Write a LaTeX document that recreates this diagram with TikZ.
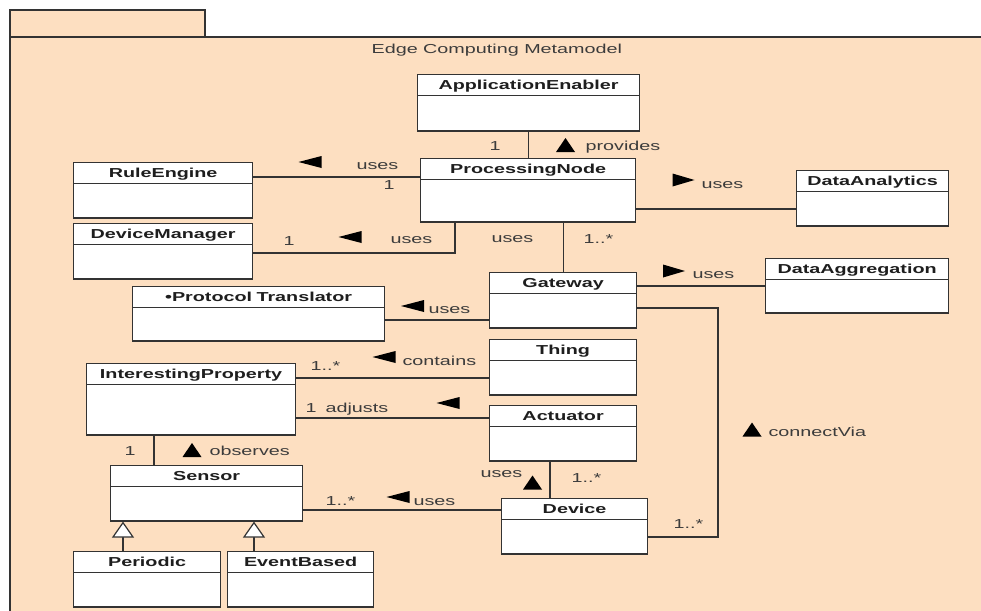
\documentclass[tikz,border=0pt]{standalone}
\usepackage{fontspec}
\setmainfont{Liberation Sans}
\newfontfamily\umlfont[FakeStretch=1.52]{Liberation Sans}
\usetikzlibrary{shapes.multipart,arrows.meta}

\definecolor{pkgfill}{RGB}{253,223,193}
\definecolor{linec}{RGB}{51,51,51}
\definecolor{namec}{RGB}{30,30,30}
\definecolor{labelc}{RGB}{60,60,60}

\tikzset{
  pics/dirup/.style={code={\fill[black] (-9.5,7) -- (9.5,7) -- (0,-7) -- cycle;}},
  pics/dirleft/.style={code={\fill[black] (11.5,-6) -- (11.5,6) -- (-11.5,0) -- cycle;}},
  pics/dirright/.style={code={\fill[black] (-11,-6.5) -- (-11,6.5) -- (11,0) -- cycle;}}
}

\begin{document}
\begin{tikzpicture}[
  x=1pt, y=-1pt,
  line width=1.2pt,
  umlclass/.style={
    draw=linec,
    fill=white,
    rectangle split,
    rectangle split parts=2,
    inner sep=0pt,
    text width=#1,
    text centered,
    anchor=north west,
    font=\umlfont\bfseries\fontsize{13}{15}\selectfont,
    text=namec
    },
  umllabel/.style={
    inner sep=0pt,
    anchor=base west,
    text=labelc,
    font=\umlfont\fontsize{13}{15}\selectfont
    },
  assoc/.style={draw=linec},
  inherits/.style={draw=linec, -{Triangle[open,length=16pt,width=22pt,fill=white]}}
]
\useasboundingbox (0,0) rectangle (981,610);

% package
\draw[draw=linec, fill=pkgfill] (10,10) rectangle (205,37);
\draw[draw=linec, fill=pkgfill] (10,37) rectangle (995,625);
\node[umllabel] (title) at (371,53) {Edge Computing Metamodel};

% classes
\node[umlclass=222pt] (ae) at (417,74)
  {\rule[-6pt]{0pt}{20pt}ApplicationEnabler \nodepart{two} \rule{0pt}{34pt}};
\node[umlclass=215pt] (pn) at (420,158)
  {\rule[-6pt]{0pt}{20pt}ProcessingNode \nodepart{two} \rule{0pt}{41pt}};
\node[umlclass=179pt] (re) at (73,162)
  {\rule[-6pt]{0pt}{20pt}RuleEngine \nodepart{two} \rule{0pt}{33pt}};
\node[umlclass=152pt] (da) at (796,170)
  {\rule[-6pt]{0pt}{20pt}DataAnalytics \nodepart{two} \rule{0pt}{33pt}};
\node[umlclass=179pt] (dm) at (73,223)
  {\rule[-6pt]{0pt}{20pt}DeviceManager \nodepart{two} \rule{0pt}{33pt}};
\node[umlclass=252pt] (pt) at (132,286)
  {\rule[-6pt]{0pt}{20pt}•Protocol Translator \nodepart{two} \rule{0pt}{32pt}};
\node[umlclass=147pt] (gw) at (489,272)
  {\rule[-6pt]{0pt}{20pt}Gateway \nodepart{two} \rule{0pt}{33pt}};
\node[umlclass=183pt] (dag) at (765,258)
  {\rule[-6pt]{0pt}{20pt}DataAggregation \nodepart{two} \rule{0pt}{32pt}};
\node[umlclass=147pt] (th) at (489,339)
  {\rule[-6pt]{0pt}{20pt}Thing \nodepart{two} \rule{0pt}{33pt}};
\node[umlclass=209pt] (ip) at (86,363)
  {\rule[-6pt]{0pt}{20pt}InterestingProperty \nodepart{two} \rule{0pt}{49pt}};
\node[umlclass=147pt] (ac) at (489,405)
  {\rule[-6pt]{0pt}{20pt}Actuator \nodepart{two} \rule{0pt}{33pt}};
\node[umlclass=192pt] (se) at (110,465)
  {\rule[-6pt]{0pt}{20pt}Sensor \nodepart{two} \rule{0pt}{33pt}};
\node[umlclass=146pt] (de) at (501,498)
  {\rule[-6pt]{0pt}{20pt}Device \nodepart{two} \rule{0pt}{33pt}};
\node[umlclass=147pt] (pe) at (73,551)
  {\rule[-6pt]{0pt}{20pt}Periodic \nodepart{two} \rule{0pt}{33pt}};
\node[umlclass=146pt] (eb) at (227,551)
  {\rule[-6pt]{0pt}{20pt}EventBased \nodepart{two} \rule{0pt}{33pt}};

% associations
\draw[assoc] (ae.south) -- (ae.south |- pn.north);
\draw[assoc] (re.east |- 0,177) -- (pn.west |- 0,177);
\draw[assoc] (pn.east |- 0,209) -- (da.west |- 0,209);
\draw[assoc] (dm.east |- 0,253) -| ([xshift=35pt]pn.south west);
\draw[assoc] (gw.north) -- (gw.north |- pn.south);
\draw[assoc] (gw.east |- 0,286) -- (dag.west |- 0,286);
\draw[assoc] (pt.east |- 0,320) -- (gw.west |- 0,320);
\coordinate (bend) at (718,537);
\draw[assoc] (gw.east |- 0,308) -| (bend) -- (de.east |- bend);
\draw[assoc] (ip.east |- 0,378) -- (th.west |- 0,378);
\draw[assoc] (ip.east |- 0,418) -- (ac.west |- 0,418);
\draw[assoc] (154,0 |- ip.south) -- (154,0 |- se.north);
\draw[assoc] (se.east |- 0,510) -- (de.west |- 0,510);
\draw[assoc] (550,0 |- ac.south) -- (550,0 |- de.north);

% generalizations
\draw[inherits] (123,0 |- pe.north) -- (123,0 |- se.south);
\draw[inherits] (254,0 |- eb.north) -- (254,0 |- se.south);

% labels
\node[umllabel] (m1) at (489,150) {1};
\pic at (565.5,145) {dirup};
\node[umllabel] (l1) at (585,150) {provides};

\pic at (310,162) {dirleft};
\node[umllabel] (l2) at (356,169) {uses};
\node[umllabel] (m2) at (383,189) {1};

\pic at (683.5,180) {dirright};
\node[umllabel] (l3) at (701,188) {uses};

\node[umllabel] (m4) at (283,245) {1};
\pic at (350,237) {dirleft};
\node[umllabel] (l4) at (390,243) {uses};

\node[umllabel] (l5) at (491,242) {uses};
\node[umllabel] (m5) at (583,243) {1..*};

\pic at (674,271) {dirright};
\node[umllabel] (l6) at (692,278) {uses};

\pic at (412.5,306) {dirleft};
\node[umllabel] (l7) at (428,313) {uses};

\node[umllabel] (m9) at (310,370) {1..*};
\pic at (384,357) {dirleft};
\node[umllabel] (l9) at (402,365) {contains};

\node[umllabel] (m10) at (305,412) {1};
\node[umllabel] (l10) at (325,412) {adjusts};
\pic at (448,403) {dirleft};

\node[umllabel] (m11) at (124,455) {1};
\pic at (192,450) {dirup};
\node[umllabel] (l11) at (209,455) {observes};

\node[umllabel] (m12) at (325,505) {1..*};
\pic at (398,497) {dirleft};
\node[umllabel] (l12) at (413,505) {uses};

\node[umllabel] (l13) at (480,477) {uses};
\pic at (532.5,482.5) {dirup};
\node[umllabel] (m13) at (571,482) {1..*};

\pic at (752,429.5) {dirup};
\node[umllabel] (l8) at (768,436) {connectVia};
\node[umllabel] (m8) at (673,528) {1..*};

\end{tikzpicture}
\end{document}
